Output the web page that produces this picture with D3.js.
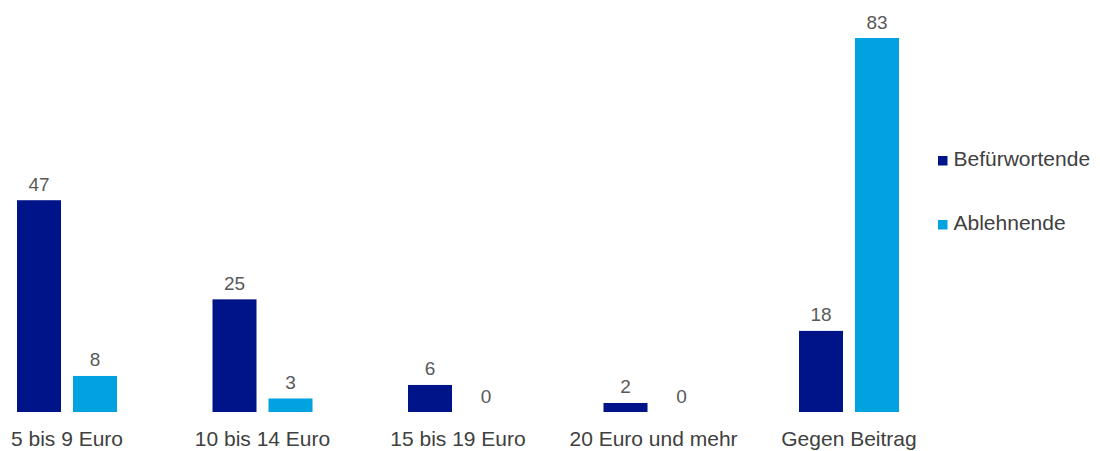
<!DOCTYPE html>
<html>
<head>
<meta charset="utf-8">
<script src="https://cdn.jsdelivr.net/npm/d3@7"></script>
<style>
  body { margin: 0; background: #fff; }
  text { font-family: "Liberation Sans", Arial, sans-serif; }
</style>
</head>
<body>
<svg id="chart" width="1100" height="451"></svg>
<script>
// data
var categories = ['5 bis 9 Euro', '10 bis 14 Euro', '15 bis 19 Euro', '20 Euro und mehr', 'Gegen Beitrag']
var seriesNames = ['Befürwortende', 'Ablehnende']
var befuerwortende = [47, 25, 6, 2, 18]
var ablehnende = [8, 3, 0, 0, 83]

// colors
var colors = ['#001489', '#00A3E0']
var textColor = '#404040'

var svg = d3.select('#chart')
var baseline = 412

var x = d3.scaleBand()
  .domain(categories)
  .range([-30.75, 946.75])

var inner = d3.scaleBand()
  .domain(seriesNames)
  .range([-50, 50])
  .paddingInner(0.214)

var y = d3.scaleLinear()
  .domain([0, 83])
  .range([baseline, 38])

var rows = categories.map(function(c, i) {
  return { cat: c, values: [befuerwortende[i], ablehnende[i]] }
})

var groups = svg.selectAll('g.group')
  .data(rows)
  .enter()
  .append('g')
  .attr('class', 'group')
  .attr('transform', function(d) { return 'translate(' + (x(d.cat) + x.bandwidth() / 2) + ',0)' })

groups.selectAll('rect')
  .data(function(d) { return d.values.map(function(v, j) { return { s: seriesNames[j], v: v, j: j } }) })
  .enter()
  .append('rect')
  .attr('x', function(d) { return inner(d.s) })
  .attr('y', function(d) { return y(d.v) })
  .attr('width', inner.bandwidth())
  .attr('height', function(d) { return baseline - y(d.v) })
  .attr('fill', function(d) { return colors[d.j] })

groups.selectAll('text.val')
  .data(function(d) { return d.values.map(function(v, j) { return { s: seriesNames[j], v: v } }) })
  .enter()
  .append('text')
  .attr('class', 'val')
  .attr('x', function(d) { return inner(d.s) + inner.bandwidth() / 2 })
  .attr('y', function(d) { return y(d.v) - 9.5 })
  .attr('text-anchor', 'middle')
  .attr('font-size', 19)
  .attr('fill', '#595959')
  .text(function(d) { return d.v })

// category axis
var axis = svg.append('g')
  .attr('transform', 'translate(0,' + baseline + ')')
  .call(d3.axisBottom(x).tickSize(0))
axis.select('.domain').remove()
axis.selectAll('text')
  .attr('y', 34)
  .attr('dy', 0)
  .attr('font-size', 21)
  .attr('font-family', '"Liberation Sans", Arial, sans-serif')
  .attr('fill', textColor)

// legend
var legend = svg.selectAll('g.legend')
  .data(seriesNames)
  .enter()
  .append('g')
  .attr('class', 'legend')
  .attr('transform', function(d, i) { return 'translate(938,' + (156 + i * 64) + ')' })

legend.append('rect')
  .attr('width', 9.5)
  .attr('height', 9.5)
  .attr('fill', function(d, i) { return colors[i] })

legend.append('text')
  .attr('x', 15.5)
  .attr('y', 10)
  .attr('font-size', 21)
  .attr('fill', textColor)
  .text(function(d) { return d })
</script>
</body>
</html>
